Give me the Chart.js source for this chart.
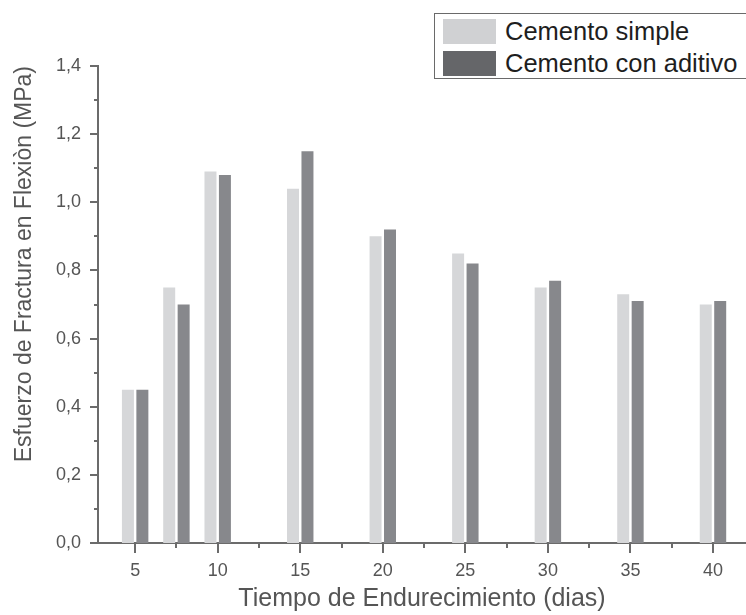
<!DOCTYPE html>
<html lang="es">
<head>
<meta charset="utf-8">
<title>Esfuerzo de fractura en flexión</title>
<script src="https://cdn.jsdelivr.net/npm/chart.js@4/dist/chart.umd.min.js"></script>
<style>
    html, body { margin: 0; padding: 0; background: #fff; overflow: hidden; }
    #wrap { position: relative; width: 746px; height: 615px; }
    #legend {
        position: absolute; left: 434px; top: 13px; width: 330px; height: 64px;
        border: 1px solid #6a6a6a; background: #fff;
        font-family: "Liberation Sans", Arial, sans-serif; font-size: 25.5px; color: #1e1e1e;
    }
    #legend .row { position: absolute; left: 8px; height: 26px; display: flex; align-items: center; }
    #legend .box { width: 53px; height: 25px; margin-right: 9px; }
</style>
</head>
<body>
<div id="wrap">
    <canvas id="chart" width="746" height="615"></canvas>
    <div id="legend"></div>
</div>
<script>
const dias = [5, 7.5, 10, 15, 20, 25, 30, 35, 40];
const cementoSimple = [0.45, 0.75, 1.09, 1.04, 0.90, 0.85, 0.75, 0.73, 0.70];
const cementoAditivo = [0.45, 0.70, 1.08, 1.15, 0.92, 0.82, 0.77, 0.71, 0.71];
const seriesNames = ['Cemento simple', 'Cemento con aditivo'];
const xTicks = [5, 10, 15, 20, 25, 30, 35, 40];
const xMinorTicks = [7.5, 12.5, 17.5, 22.5, 27.5, 32.5, 37.5];
const yTicks = [0, 0.2, 0.4, 0.6, 0.8, 1.0, 1.2, 1.4];
const yMinorTicks = [0.1, 0.3, 0.5, 0.7, 0.9, 1.1, 1.3];

const axisColor = '#6b6b6b';
const textColor = '#555555';
const fontFamily = '"Liberation Sans", Arial, sans-serif';
const barColors = ['#d6d7d9', '#87888c'];
const legendColors = ['#d0d1d3', '#656669'];

// tick marks drawn outward, long for labelled ticks, short for minor ones
const tickMarks = {
    id: 'tickMarks',
    afterDraw(chart) {
        const {ctx, chartArea, scales} = chart;
        ctx.save();
        ctx.strokeStyle = axisColor;
        ctx.lineWidth = 2;
        ctx.beginPath();
        yTicks.forEach(v => {
            const y = Math.round(scales.y.getPixelForValue(v));
            ctx.moveTo(chartArea.left - 8, y);
            ctx.lineTo(chartArea.left, y);
        });
        yMinorTicks.forEach(v => {
            const y = Math.round(scales.y.getPixelForValue(v));
            ctx.moveTo(chartArea.left - 4, y);
            ctx.lineTo(chartArea.left, y);
        });
        xTicks.forEach(v => {
            const x = Math.round(scales.x.getPixelForValue(v));
            ctx.moveTo(x, chartArea.bottom);
            ctx.lineTo(x, chartArea.bottom + 10);
        });
        xMinorTicks.forEach(v => {
            const x = Math.round(scales.x.getPixelForValue(v));
            ctx.moveTo(x, chartArea.bottom);
            ctx.lineTo(x, chartArea.bottom + 5);
        });
        ctx.stroke();
        ctx.restore();
    }
};

const toPoints = values => values.map((v, i) => ({x: dias[i], y: v}));

const chart = new Chart(document.getElementById('chart'), {
    type: 'bar',
    data: {
        datasets: [
            {label: seriesNames[0], data: toPoints(cementoSimple), backgroundColor: barColors[0]},
            {label: seriesNames[1], data: toPoints(cementoAditivo), backgroundColor: barColors[1]}
        ]
    },
    options: {
        responsive: false,
        animation: false,
        events: [],
        categoryPercentage: 0.7,
        barPercentage: 0.83,
        layout: {padding: {top: 66, right: 0, left: 0, bottom: 0}},
        plugins: {
            legend: {display: false},
            tooltip: {enabled: false}
        },
        scales: {
            x: {
                type: 'linear',
                offset: false,
                min: 2.75,
                max: 42,
                afterBuildTicks: axis => { axis.ticks = xTicks.map(v => ({value: v})); },
                afterFit: axis => { axis.height = 72; },
                grid: {display: false, drawTicks: false},
                border: {display: true, color: axisColor, width: 2},
                ticks: {
                    padding: 17,
                    color: textColor,
                    font: {family: fontFamily, size: 18},
                    maxRotation: 0,
                    callback: v => String(v)
                },
                title: {
                    display: true,
                    text: 'Tiempo de Endurecimiento (dias)',
                    color: textColor,
                    font: {family: fontFamily, size: 25},
                    padding: {top: 0, bottom: 1}
                }
            },
            y: {
                min: 0,
                max: 1.4,
                afterBuildTicks: axis => { axis.ticks = yTicks.map(v => ({value: v})); },
                afterFit: axis => { axis.width = 98; },
                grid: {display: false, drawTicks: false},
                border: {display: true, color: axisColor, width: 2},
                ticks: {
                    padding: 17,
                    color: textColor,
                    font: {family: fontFamily, size: 18},
                    callback: v => v.toFixed(1).replace('.', ',')
                },
                title: {
                    display: true,
                    text: 'Esfuerzo de Fractura en Flexiòn (MPa)',
                    align: 'end',
                    color: textColor,
                    font: {family: fontFamily, size: 23},
                    padding: {top: 11, bottom: 0}
                }
            }
        }
    },
    plugins: [tickMarks]
});

const legend = document.getElementById('legend');
chart.data.datasets.forEach((ds, i) => {
    const row = document.createElement('div');
    row.className = 'row';
    row.style.top = (4 + i * 32) + 'px';
    const box = document.createElement('span');
    box.className = 'box';
    box.style.background = legendColors[i];
    const label = document.createElement('span');
    label.textContent = ds.label;
    row.appendChild(box);
    row.appendChild(label);
    legend.appendChild(row);
});
</script>
</body>
</html>
